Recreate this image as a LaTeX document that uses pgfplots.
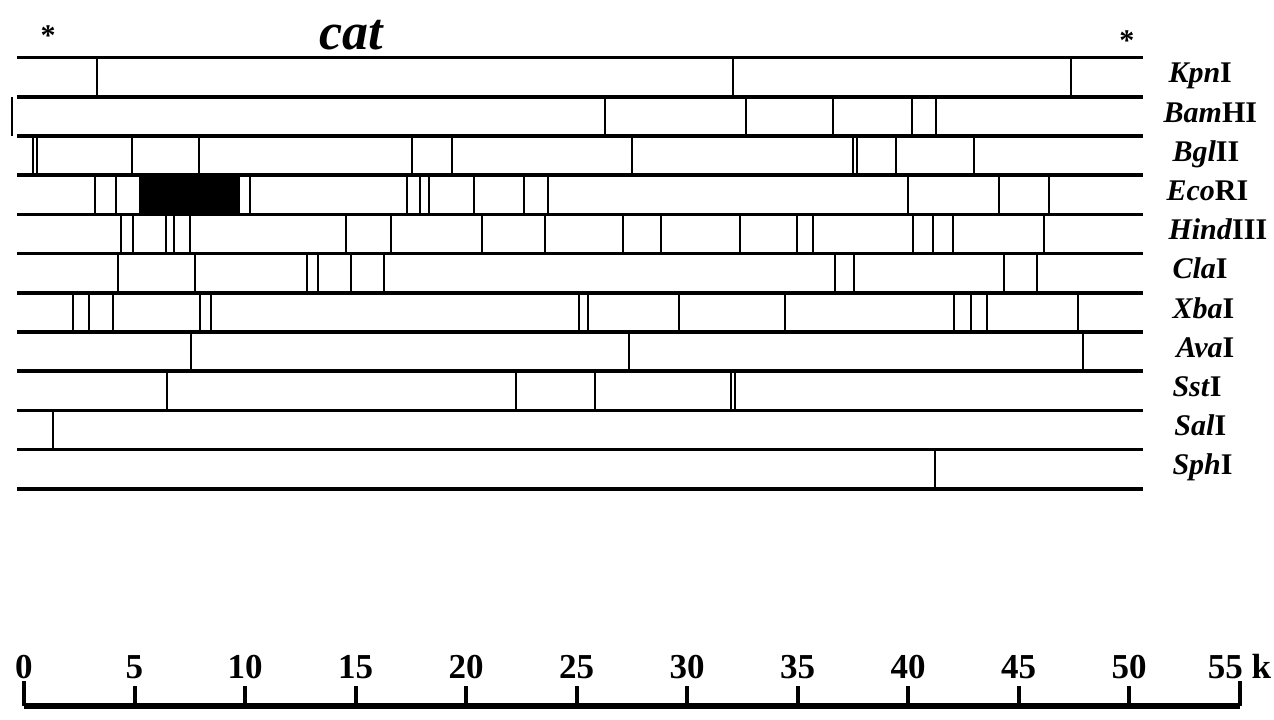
\documentclass[border=0pt]{standalone}
\usepackage{fontspec}
\setmainfont{Liberation Serif}
\usepackage{pgfplots}
\pgfplotsset{compat=1.18}

% one cut site = one short vertical stroke across its row
\pgfplotsset{cuts/.style={draw=none, mark=none,
    error bars/.cd, y dir=both, y fixed=0.5, error mark=none,
    error bar style={draw=black, line width=0.9pt}}}
\newcommand{\enz}[1]{\fontsize{15}{16}\selectfont\bfseries #1}
\tikzset{enzlabel/.style={anchor=base west, inner sep=0pt}}

\begin{document}
\begin{tikzpicture}
\path[use as bounding box] (0,0) rectangle (637pt,359.5pt);
\begin{axis}[
    at={(0,0)}, anchor=south west,
    scale only axis, width=637pt, height=359.5pt,
    xmin=-1.086, xmax=56.561,
    ymin=-1.467, ymax=16.875, y dir=reverse,
    hide axis, clip=false]

  % the 12 lines that bound the 11 enzyme rows
  \addplot[line width=1.8pt, black, unbounded coords=jump] coordinates {
    (-0.32,0)(50.63,0) (nan,nan)
    (-0.32,1)(50.63,1) (nan,nan)
    (-0.32,2)(50.63,2) (nan,nan)
    (-0.32,3)(50.63,3) (nan,nan)
    (-0.32,4)(50.63,4) (nan,nan)
    (-0.32,5)(50.63,5) (nan,nan)
    (-0.32,6)(50.63,6) (nan,nan)
    (-0.32,7)(50.63,7) (nan,nan)
    (-0.32,8)(50.63,8) (nan,nan)
    (-0.32,9)(50.63,9) (nan,nan)
    (-0.32,10)(50.63,10) (nan,nan)
    (-0.32,11)(50.63,11)
  };

  % EcoRI black fragment
  \addplot[fill=black, draw=none] coordinates {
    (5.25,3)(9.73,3)(9.73,4)(5.25,4)} -- cycle;

  % KpnI
  \addplot[cuts] coordinates {(3.30,0.5)(32.08,0.5)(47.38,0.5)};
  % BamHI
  \addplot[cuts] coordinates {(-0.54,1.5)(26.29,1.5)(32.67,1.5)(36.61,1.5)
    (40.18,1.5)(41.27,1.5)};
  % BglII
  \addplot[cuts] coordinates {(0.41,2.5)(0.59,2.5)(4.89,2.5)(7.92,2.5)
    (17.56,2.5)(19.37,2.5)(27.51,2.5)(37.51,2.5)(37.69,2.5)(39.46,2.5)
    (42.99,2.5)};
  % EcoRI
  \addplot[cuts] coordinates {(3.21,3.5)(4.16,3.5)(5.25,3.5)(9.73,3.5)
    (10.23,3.5)(17.33,3.5)(17.92,3.5)(18.33,3.5)(20.36,3.5)(22.62,3.5)
    (23.71,3.5)(40.00,3.5)(44.12,3.5)(46.38,3.5)};
  % HindIII
  \addplot[cuts] coordinates {(4.39,4.5)(4.93,4.5)(6.43,4.5)(6.79,4.5)
    (7.51,4.5)(14.57,4.5)(16.61,4.5)(20.72,4.5)(23.57,4.5)(27.10,4.5)
    (28.82,4.5)(32.40,4.5)(34.98,4.5)(35.70,4.5)(40.23,4.5)(41.13,4.5)
    (42.04,4.5)(46.15,4.5)};
  % ClaI
  \addplot[cuts] coordinates {(4.25,5.5)(7.74,5.5)(12.81,5.5)(13.30,5.5)
    (14.80,5.5)(16.29,5.5)(36.70,5.5)(37.56,5.5)(44.34,5.5)(45.84,5.5)};
  % XbaI
  \addplot[cuts] coordinates {(2.22,6.5)(2.94,6.5)(4.03,6.5)(7.96,6.5)
    (8.46,6.5)(25.11,6.5)(25.52,6.5)(29.64,6.5)(34.43,6.5)(42.08,6.5)
    (42.85,6.5)(43.57,6.5)(47.69,6.5)};
  % AvaI
  \addplot[cuts] coordinates {(7.56,7.5)(27.38,7.5)(47.92,7.5)};
  % SstI
  \addplot[cuts] coordinates {(6.47,8.5)(22.26,8.5)(25.84,8.5)(31.99,8.5)
    (32.17,8.5)};
  % SalI
  \addplot[cuts] coordinates {(1.31,9.5)};
  % SphI
  \addplot[cuts] coordinates {(41.22,10.5)};

  % enzyme names
  \node[enzlabel] at (axis cs:51.77,0.65)  {\enz{\textit{Kpn}I}};
  \node[enzlabel] at (axis cs:51.55,1.65)  {\enz{\textit{Bam}HI}};
  \node[enzlabel] at (axis cs:51.95,2.65)  {\enz{\textit{Bgl}II}};
  \node[enzlabel] at (axis cs:51.68,3.65)  {\enz{\textit{Eco}RI}};
  \node[enzlabel] at (axis cs:51.77,4.65)  {\enz{\textit{Hind}III}};
  \node[enzlabel] at (axis cs:51.95,5.65)  {\enz{\textit{Cla}I}};
  \node[enzlabel] at (axis cs:51.95,6.65)  {\enz{\textit{Xba}I}};
  \node[enzlabel] at (axis cs:52.13,7.65)  {\enz{\textit{Ava}I}};
  \node[enzlabel] at (axis cs:51.95,8.65)  {\enz{\textit{Sst}I}};
  \node[enzlabel] at (axis cs:52.04,9.65)  {\enz{\textit{Sal}I}};
  \node[enzlabel] at (axis cs:51.95,10.65) {\enz{\textit{Sph}I}};

  % gene name and the two asterisks
  \node[anchor=base] at (axis cs:14.8,-0.2)
    {\fontsize{26}{28}\selectfont\bfseries\itshape cat};
  \node at (axis cs:1.09,-0.55) {\fontsize{15}{16}\selectfont\bfseries *};
  \node at (axis cs:49.9,-0.42) {\fontsize{15}{16}\selectfont\bfseries *};
\end{axis}

% kb scale bar
\begin{axis}[
    at={(12pt,6.5pt)}, anchor=north west,
    scale only axis, width=607.75pt, height=2pt,
    xmin=0, xmax=55, ymin=0, ymax=1,
    axis y line=none, axis x line=top,
    x axis line style={-, line width=3pt, black},
    tick align=outside, major tick length=10pt,
    tick style={line width=2pt, black},
    xtick={5,10,15,20,25,30,35,40,45,50},
    xticklabels={5,10,15,20,25,30,35,40,45,50},
    extra x ticks={0,55},
    extra x tick labels={0,55 k},
    extra x tick style={major tick length=12.5pt,
      xticklabel style={yshift=-2.5pt}},
    xticklabel style={font=\fontsize{17.5}{18}\selectfont\bfseries}]
  \addplot[draw=none] coordinates {(0,0)(55,0)};
\end{axis}
\end{tikzpicture}
\end{document}
